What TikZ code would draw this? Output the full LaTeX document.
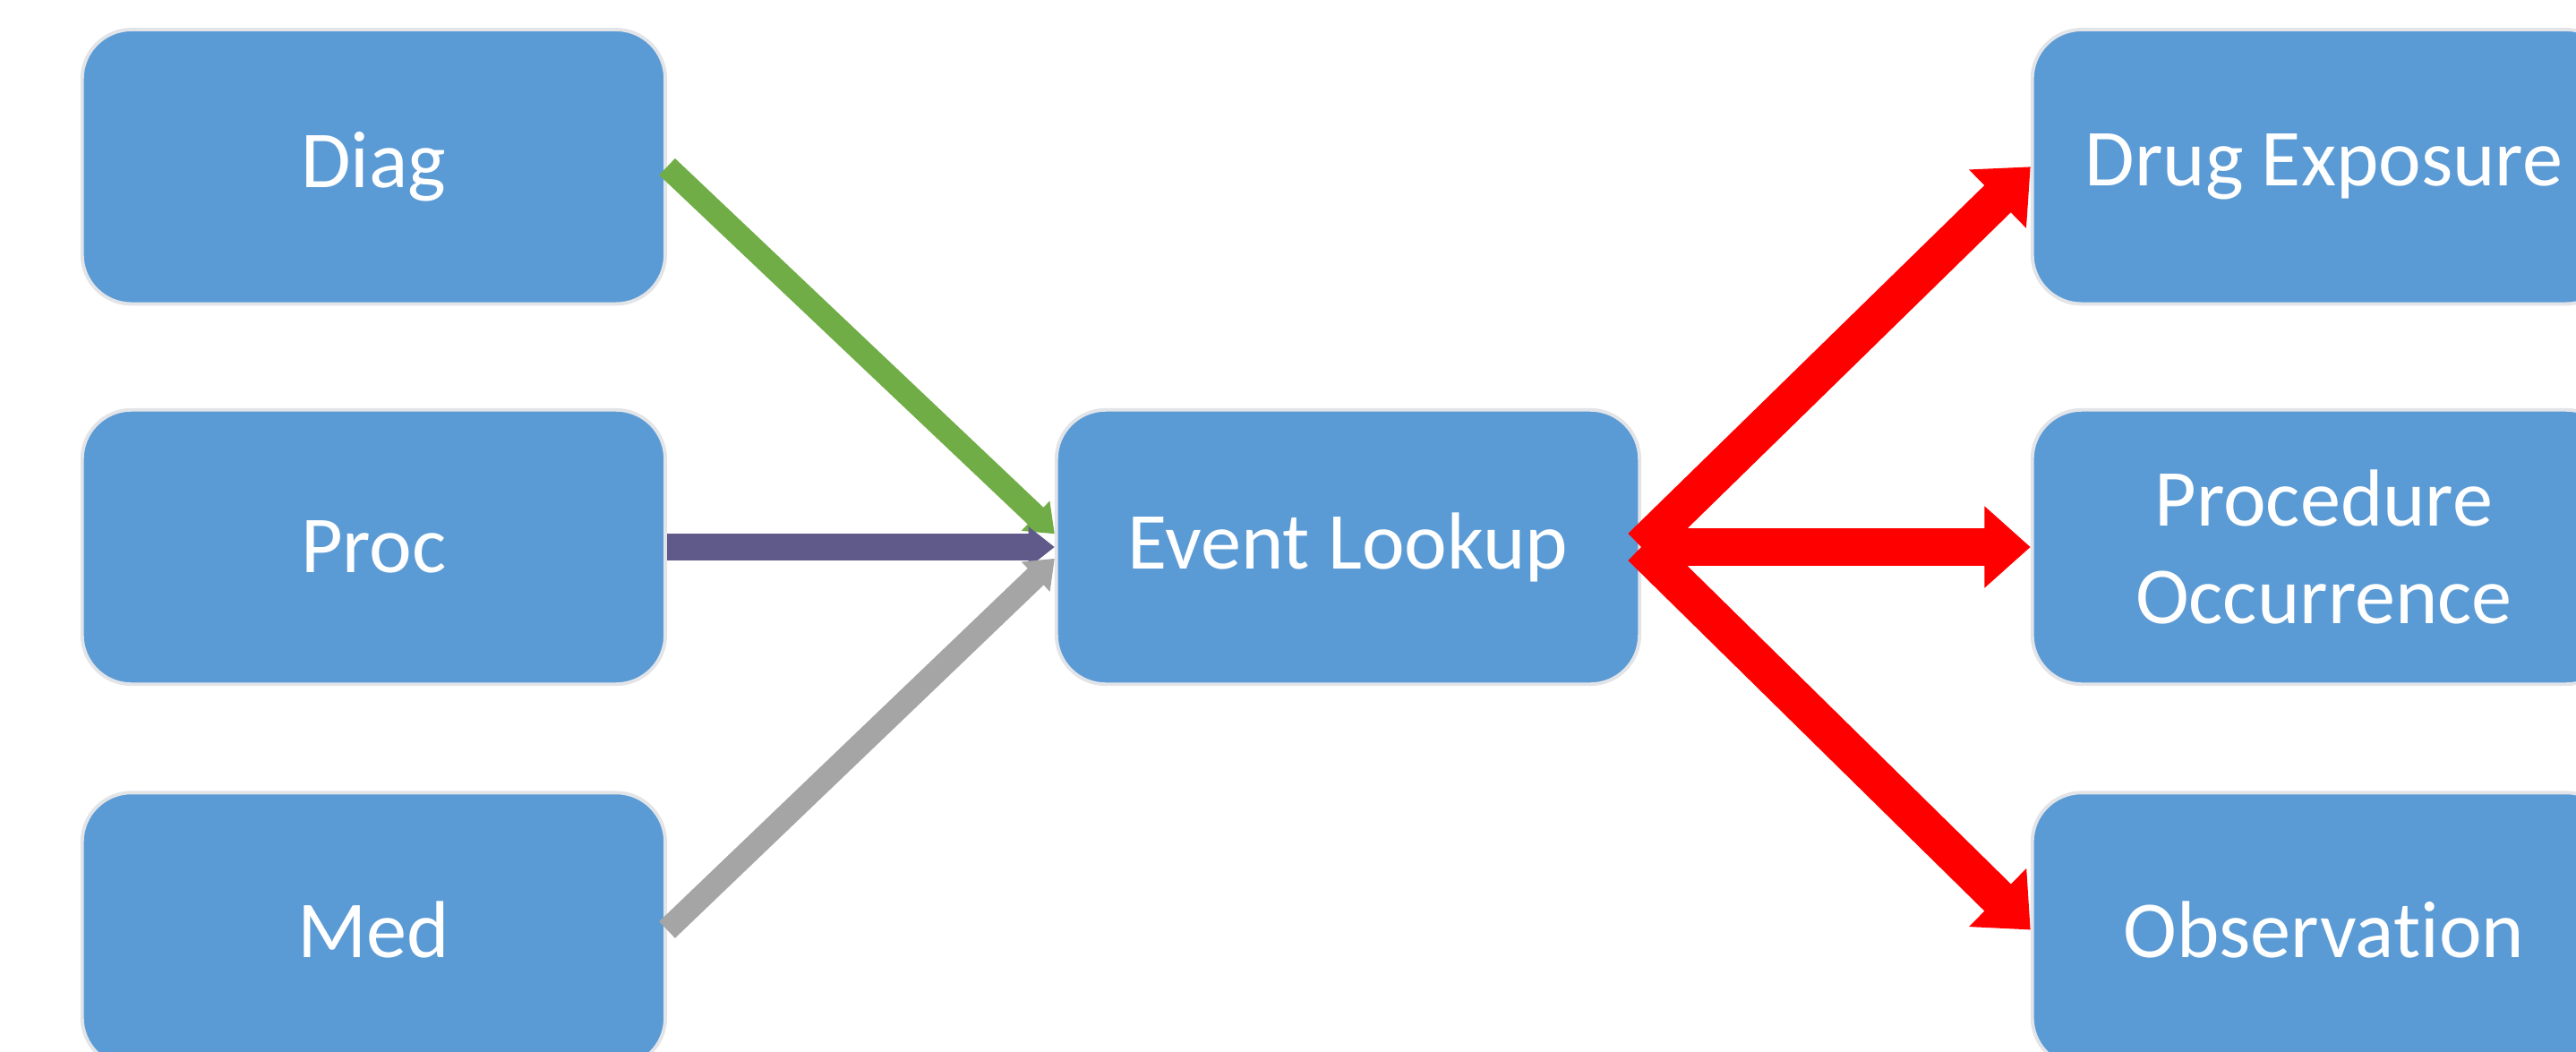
\documentclass[tikz,border=0pt]{standalone}
\usepackage{fontspec}
\setmainfont{Carlito}[Ligatures=NoCommon]
\usetikzlibrary{arrows.meta}
\definecolor{boxblue}{HTML}{5B9BD5}
\definecolor{diaggreen}{HTML}{70AD47}
\definecolor{procpurple}{HTML}{605A8A}
\definecolor{medgrey}{HTML}{A5A5A5}
\definecolor{rimgrey}{HTML}{E2E4E8}

\begin{document}
\begin{tikzpicture}[tablenode/.style={rectangle, rounded corners=0.3cm, draw=rimgrey, line width=0.6pt, fill=boxblue, text=white, minimum width=3.55cm, minimum height=1.67cm, inner sep=0pt, align=center, font=\fontsize{14}{17}\selectfont}]
        \useasboundingbox (0, 0) rectangle (15.68, 6.40);
        \clip (0, 0) rectangle (15.68, 6.40);
        \node [tablenode] at (2.275, 5.385)  (diag)    {Diag};
        \node [tablenode] at (2.275, 3.07)   (proc)    {Proc};
        \node [tablenode] at (2.275, 0.74)   (med)     {Med};
        \node [tablenode] at (8.205, 3.07)   (lookup)  {Event Lookup};
        \node [tablenode] at (14.145, 5.385) (drug)    {Drug Exposure};
        \node [tablenode] at (14.145, 3.07)  (prococc) {Procedure\\Occurrence};
        \node [tablenode] at (14.145, 0.74)  (obs)     {Observation};
        \draw[line width=1.4mm, >={Triangle[width=2.4mm, length=1.6mm]}]
            (diag.east) edge[->, draw=diaggreen, fill=diaggreen] ([yshift=0.8mm]lookup.west)
            (proc.east) edge[->, line width=1.65mm, draw=procpurple, fill=procpurple] (lookup.west)
            (med.east)  edge[->, draw=medgrey, fill=medgrey] ([yshift=-0.7mm]lookup.west);
        \draw[line width=2.3mm, draw=red, fill=red,
                >={Triangle[width=4.8mm, length=2.8mm]}]
            (lookup.east) edge[->] (drug.west)
            (lookup.east) edge[->] (prococc.west)
            (lookup.east) edge[->] (obs.west);
    \end{tikzpicture}
\end{document}
